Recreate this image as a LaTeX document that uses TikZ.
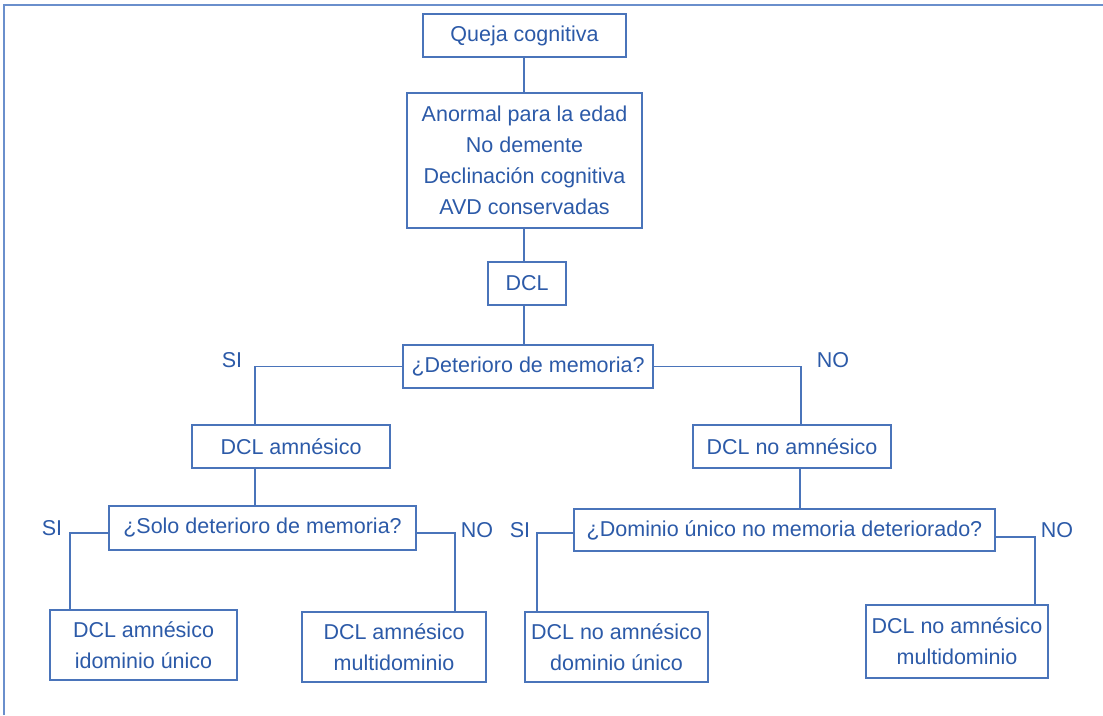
\documentclass[tikz,border=0pt]{standalone}
\usepackage{fontspec}
\setmainfont{Liberation Sans}
\definecolor{txtblue}{HTML}{2C5AA8}
\definecolor{lineblue}{HTML}{4A74BA}
\definecolor{frameblue}{HTML}{6A8FCC}
\begin{document}
\begin{tikzpicture}[x=1pt,y=-1pt,
 box/.style={draw=lineblue, line width=1.7pt, fill=white, text=txtblue, inner sep=0pt, align=center, font=\fontsize{21.5}{31}\selectfont},
 conn/.style={draw=lineblue, line width=1.8pt},
 lbl/.style={text=txtblue, font=\fontsize{21.5}{26}\selectfont, inner sep=0pt}]
\useasboundingbox (0,0) rectangle (1103,715);
% frame
\coordinate (frbl) at (4,715);
\coordinate (frtl) at (4,5);
\coordinate (frtr) at (1103,5);
\draw[frameblue, line width=1.5pt] (frbl) -- (frtl) -- (frtr);
% nodes
\node[box, minimum width=203pt, minimum height=43pt] (q) at (524.5,35.5) {Queja cognitiva};
\node[box, minimum width=235pt, minimum height=135pt] (a) at (524.5,160.5) {Anormal para la edad\\No demente\\Declinación cognitiva\\AVD conservadas};
\node[box, minimum width=78pt, minimum height=43pt] (dcl) at (527,283.5) {DCL};
\node[box, minimum width=250pt, minimum height=43pt] (dm) at (528,366.5) {¿Deterioro de memoria?};
\node[box, minimum width=198pt, minimum height=43pt] (am) at (291,446.5) {DCL amnésico};
\node[box, minimum width=198pt, minimum height=43pt] (na) at (792,446.5) {DCL no amnésico};
\node[box, minimum width=307pt, minimum height=44pt] (solo) at (262.5,528) {¿Solo deterioro de memoria?};
\node[box, minimum width=421pt, minimum height=42pt] (dom) at (784.5,530) {¿Dominio único no memoria deteriorado?};
\node[box, minimum width=187pt, minimum height=70pt] (l1) at (143.5,645) {DCL amnésico\\idominio único};
\node[box, minimum width=184pt, minimum height=70pt] (l2) at (394,647) {DCL amnésico\\multidominio};
\node[box, minimum width=183pt, minimum height=70pt] (l3) at (616.5,647) {DCL no amnésico\\dominio único};
\node[box, minimum width=182pt, minimum height=73pt] (l4) at (957,641.5) {DCL no amnésico\\multidominio};
% labels
\node[lbl] (si1) at (232,360) {SI};
\node[lbl] (no1) at (833,360) {NO};
\node[lbl] (si2) at (52,528) {SI};
\node[lbl] (no2) at (477,530) {NO};
\node[lbl] (si3) at (520,530) {SI};
\node[lbl] (no3) at (1057,530) {NO};
% connectors
\draw[conn] ([xshift=-0.5pt]q.south) -- ([xshift=-0.5pt]a.north);
\draw[conn] ([xshift=-0.5pt]a.south) -- ([xshift=-3pt]dcl.north);
\draw[conn] ([xshift=-3pt]dcl.south) -- ([xshift=-4pt]dm.north);
\draw[conn] (dm.west) -| ([xshift=-36pt]am.north);
\draw[conn] (dm.east) -| ([xshift=9pt]na.north);
\draw[conn] ([xshift=-36pt]am.south) -- ([xshift=-7.5pt]solo.north);
\draw[conn] ([xshift=8pt]na.south) -- ([xshift=15.5pt]dom.north);
\draw[conn] ([yshift=-5pt]solo.west) -| ([xshift=-73.5pt]l1.north);
\draw[conn] ([yshift=-5pt]solo.east) -| ([xshift=61pt]l2.north);
\draw[conn] ([yshift=-3pt]dom.west) -| ([xshift=-79.5pt]l3.north);
\draw[conn] ([yshift=-7pt]dom.east) -| ([xshift=78pt]l4.north);
\end{tikzpicture}
\end{document}
